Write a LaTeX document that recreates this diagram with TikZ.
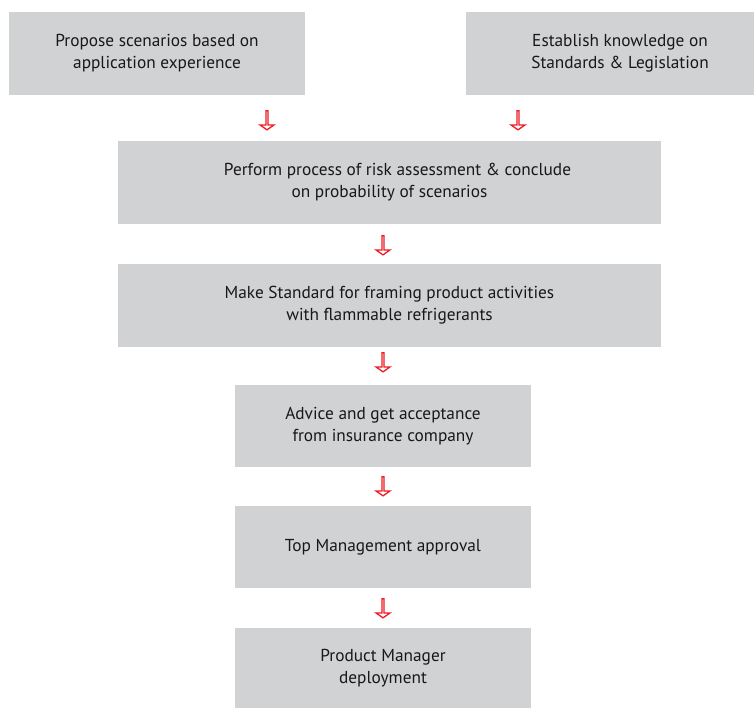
\documentclass[tikz,border=0pt]{standalone}
\usepackage{fontspec}
\setmainfont{PT Sans}
\usetikzlibrary{shapes.arrows}
\definecolor{boxgray}{HTML}{D1D2D4}
\definecolor{txt}{HTML}{1A1718}
\definecolor{arrred}{HTML}{ED1C24}
\tikzset{
  stage/.style={fill=boxgray,text=txt,align=center,inner sep=0pt,font=\fontsize{17.3}{22}\selectfont},
  downarr/.style={single arrow,draw=arrred,fill=white,line width=1.3pt,rotate=-90,
    minimum height=19pt,minimum width=14pt,inner sep=0pt,single arrow head extend=4pt,
    single arrow head indent=0pt,single arrow tip angle=110}
}
\begin{document}
\begin{tikzpicture}[x=1pt,y=-1pt]
\useasboundingbox (0,0) rectangle (754,708);
% boxes
\node[stage,minimum width=296pt,minimum height=83pt] (propose) at (157,53.5) {Propose scenarios based on\\application experience};
\node[stage,minimum width=288pt,minimum height=83pt] (establish) at (610,53.5) {\hspace*{20pt}Establish knowledge on\\\hspace*{20pt}Standards \& Legislation};
\node[stage,minimum width=543pt,minimum height=83pt] (risk) at (389.5,182.5) {\hspace*{16pt}Perform process of risk assessment \& conclude\\on probability of scenarios};
\node[stage,minimum width=543pt,minimum height=83pt] (standard) at (389.5,305.5) {Make Standard for framing product activities\\with flammable refrigerants};
\node[stage,minimum width=296pt,minimum height=82pt] (advice) at (383,426) {Advice and get acceptance\\from insurance company};
\node[stage,minimum width=296pt,minimum height=82pt] (approval) at (383,547) {Top Management approval};
\node[stage,minimum width=296pt,minimum height=80pt] (deploy) at (383,668) {Product Manager\\deployment};
% arrows
\node[downarr] (a1) at (267,120) {};
\node[downarr] (a2) at (518,120) {};
\node[downarr] (a3) at (383,245) {};
\node[downarr] (a4) at (383,362) {};
\node[downarr] (a5) at (383,486) {};
\node[downarr] (a6) at (383,608) {};
\end{tikzpicture}
\end{document}
